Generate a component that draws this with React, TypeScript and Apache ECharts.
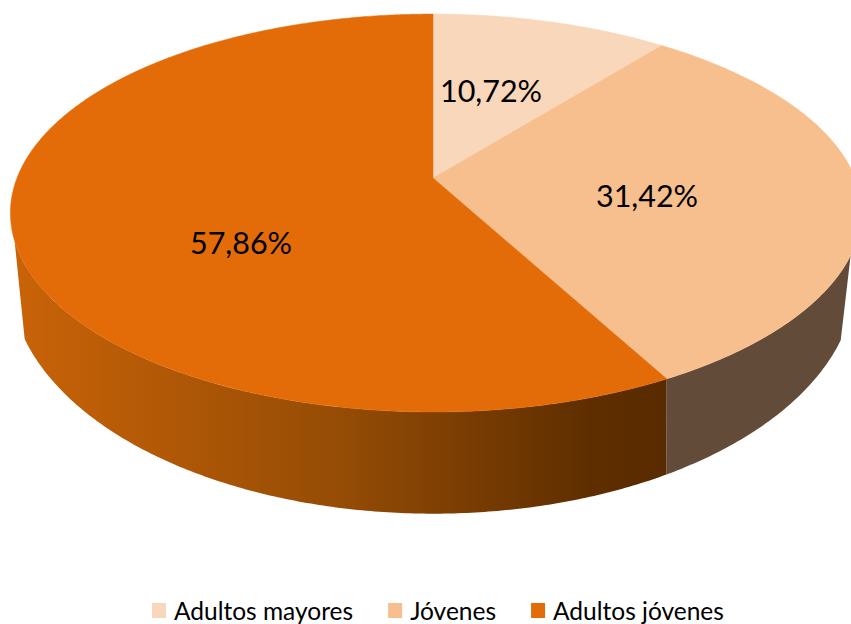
import React, { useEffect, useRef } from "react";
import * as echarts from "echarts";

const categories = ["Adultos mayores", "Jóvenes", "Adultos jóvenes"];
const shares = [10.72, 31.42, 57.86];
const topColors = ["#F8D7BB", "#F6BF8D", "#E36C09"];
const labelAnchors: [number, number][] = [[491, 90], [647, 195], [241, 242]];

// Perspective model of the pie's top and bottom discs
const CX = 433;
const K = 0.1759;
const TOP = { y0: 178, a: 192.8, b: 416, bulge: 6, from: 112, to: 252 };
const BOTTOM = { y0: 237, a: 228, b: 416, bulge: 0, from: 114.8, to: 245.5 };

function project(d: typeof TOP, deg: number): [number, number] {
  const t = (deg * Math.PI) / 180;
  const X = Math.sin(t);
  const Y = Math.cos(t);
  const w = 1 + K * Y;
  const b = d.b + d.bulge * Math.pow(Math.max(0, X), 3);
  return [CX + (b * X) / w, d.y0 - (d.a * Y) / w];
}

function arc(d: typeof TOP, from: number, to: number): [number, number][] {
  const pts: [number, number][] = [];
  const n = Math.max(1, Math.ceil(Math.abs(to - from) * 2));
  for (let i = 0; i <= n; i++) pts.push(project(d, from + ((to - from) * i) / n));
  return pts;
}

function sideFill(i: number): any {
  if (i === 1) return "#634B39";
  return new echarts.graphic.LinearGradient(0, 0, 1, 0, [
    { offset: 0, color: "#C96308" },
    { offset: 0.5, color: "#954C05" },
    { offset: 0.88, color: "#5F2E00" },
    { offset: 1, color: "#592B00" },
  ]);
}

function renderSlice(i: number) {
  return (_params: any, api: any) => {
    const share = api.value(0);
    const before = shares.slice(0, i).reduce((s, v) => s + v, 0);
    const start = (before / 100) * 360;
    const end = ((before + share) / 100) * 360;
    const children: any[] = [];
    if (Math.min(end, TOP.to) > Math.max(start, TOP.from)) {
      children.push({
        type: "polygon",
        shape: {
          points: [
            ...arc(TOP, Math.max(start, TOP.from), Math.min(end, TOP.to)),
            ...arc(BOTTOM, Math.min(end, BOTTOM.to), Math.max(start, BOTTOM.from)),
          ],
        },
        style: { fill: sideFill(i), stroke: null },
      });
    }
    children.push({
      type: "polygon",
      shape: { points: [[CX, TOP.y0], ...arc(TOP, start, end)] },
      style: { fill: topColors[i], stroke: topColors[i], lineWidth: 0.5 },
    });
    children.push({
      type: "text",
      x: labelAnchors[i][0],
      y: labelAnchors[i][1],
      z2: 10,
      style: {
        text: share.toFixed(2).replace(".", ",") + "%",
        fill: "#000",
        font: '30.5px Lato, "Open Sans", sans-serif',
        align: "center",
        verticalAlign: "middle",
      },
    });
    return { type: "group", children };
  };
}

export default function App() {
  const ref = useRef<HTMLDivElement>(null);
  useEffect(() => {
    const chart = echarts.init(ref.current!, undefined, { renderer: "svg" });
    chart.setOption({
      animation: false,
      backgroundColor: "#fff",
      legend: {
        data: categories,
        left: 152,
        top: 598,
        icon: "rect",
        itemWidth: 14,
        itemHeight: 15,
        itemGap: 35,
        padding: 0,
        textStyle: {
          fontFamily: 'Lato, "Open Sans", sans-serif',
          fontSize: 24.5,
          color: "#000",
          padding: [0, 0, 0, 3],
        },
      },
      series: categories.map((name, i) => ({
        type: "custom",
        name,
        coordinateSystem: "none",
        itemStyle: { color: topColors[i] },
        data: [[shares[i]]],
        renderItem: renderSlice(i),
      })),
    });
    return () => chart.dispose();
  }, []);
  return (
    <div
      ref={ref}
      style={{ position: "absolute", left: 0, top: 0, width: 851, height: 624 }}
    />
  );
}
